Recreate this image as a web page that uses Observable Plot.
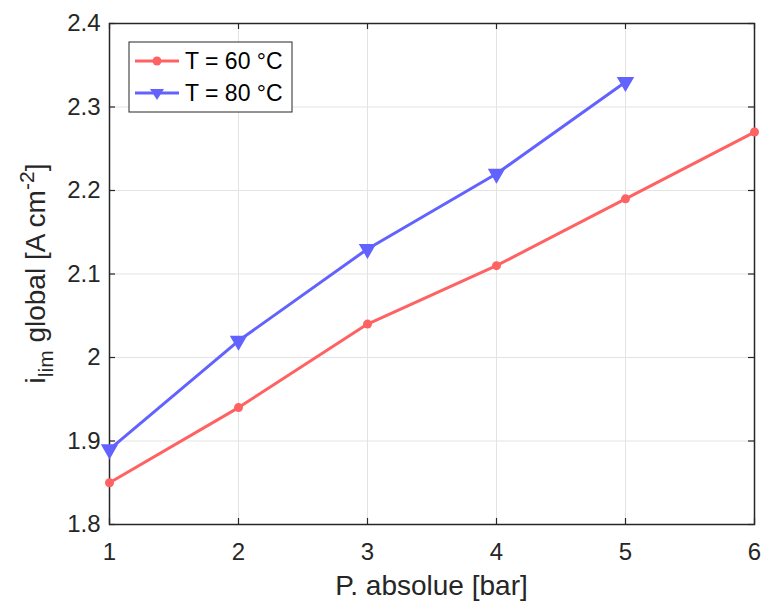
<!DOCTYPE html>
<html>
<head>
<meta charset="utf-8">
<script src="https://cdn.jsdelivr.net/npm/d3@7"></script>
<script src="https://cdn.jsdelivr.net/npm/@observablehq/plot@0.6"></script>
<style>
  html, body { margin: 0; padding: 0; background: #fff; overflow: hidden; }
  #chart svg { display: block; }
</style>
</head>
<body>
<div id="chart"></div>
<script>
const pressure60 = [1, 2, 3, 4, 5, 6];
const ilim60 = [1.85, 1.94, 2.04, 2.11, 2.19, 2.27];
const pressure80 = [1, 2, 3, 4, 5];
const ilim80 = [1.89, 2.02, 2.13, 2.22, 2.33];
const xTicks = [1, 2, 3, 4, 5, 6];
const yTicks = [1.8, 1.9, 2.0, 2.1, 2.2, 2.3, 2.4];
const yTickLabels = ["1.8", "1.9", "2", "2.1", "2.2", "2.3", "2.4"];
const seriesNames = ["T = 60 °C", "T = 80 °C"];

const red = "#ff6262";
const blue = "#6262ff";
const font = "'Liberation Sans', Arial, sans-serif";

const d60 = pressure60.map((p, i) => ({p, v: ilim60[i]}));
const d80 = pressure80.map((p, i) => ({p, v: ilim80[i]}));

const W = 762, H = 602;
const mL = 109, mR = 8, mT = 23, mB = 78;
const innerH = H - mT - mB;
const innerW = W - mL - mR;
const tk = 6;

const chart = Plot.plot({
  width: W,
  height: H,
  marginLeft: mL,
  marginRight: mR,
  marginTop: mT,
  marginBottom: mB,
  style: {fontFamily: font, background: "#fff"},
  x: {domain: [1, 6], axis: null},
  y: {domain: [1.8, 2.4], axis: null},
  marks: [
    Plot.ruleX(xTicks, {stroke: "#e3e3e3", strokeWidth: 1}),
    Plot.ruleY(yTicks, {stroke: "#e3e3e3", strokeWidth: 1}),
    // inward ticks
    Plot.ruleX(xTicks, {stroke: "#262626", strokeWidth: 1.2, insetTop: innerH - tk}),
    Plot.ruleX(xTicks, {stroke: "#262626", strokeWidth: 1.2, insetBottom: innerH - tk}),
    Plot.ruleY(yTicks, {stroke: "#262626", strokeWidth: 1.2, insetRight: innerW - tk}),
    Plot.ruleY(yTicks, {stroke: "#262626", strokeWidth: 1.2, insetLeft: innerW - tk}),
    Plot.frame({stroke: "#262626", strokeWidth: 1.5}),
    // tick labels
    Plot.text(xTicks, {x: d => d, y: 1.8, text: d => String(d), dy: 28, fontSize: 24, fill: "#262626"}),
    Plot.text(yTicks, {x: 1, y: d => d, text: (d, i) => yTickLabels[i], dx: -9, textAnchor: "end", fontSize: 24, fill: "#262626"}),
    // series
    Plot.line(d60, {x: "p", y: "v", stroke: red, strokeWidth: 3}),
    Plot.dot(d60, {x: "p", y: "v", fill: red, r: 4.5, symbol: "circle"}),
    Plot.line(d80, {x: "p", y: "v", stroke: blue, strokeWidth: 3}),
    Plot.dot(d80, {x: "p", y: "v", fill: blue, stroke: blue, r: 5.5, symbol: "triangle", rotate: 180})
  ]
});

const svg = d3.select(chart);

// x label
svg.append("text")
  .attr("x", mL + innerW / 2)
  .attr("y", 595)
  .attr("text-anchor", "middle")
  .attr("font-size", 28)
  .attr("fill", "#262626")
  .attr("font-family", font)
  .text("P. absolue [bar]");

// y label with subscript/superscript
const yl = svg.append("text")
  .attr("transform", `translate(45, ${mT + innerH / 2}) rotate(-90)`)
  .attr("text-anchor", "middle")
  .attr("font-size", 28)
  .attr("fill", "#262626")
  .attr("font-family", font);
yl.append("tspan").text("i");
yl.append("tspan").attr("font-size", 21).attr("dy", 8).text("lim");
yl.append("tspan").attr("dy", -8).text(" global [A cm");
yl.append("tspan").attr("font-size", 21).attr("dy", -11).text("-2");
yl.append("tspan").attr("dy", 11).text("]");

// legend
const lg = svg.append("g").attr("font-family", font);
lg.append("rect")
  .attr("x", 129).attr("y", 42).attr("width", 163).attr("height", 70)
  .attr("fill", "#fff").attr("stroke", "#262626").attr("stroke-width", 1);
const items = [
  {name: seriesNames[0], color: red, sym: "circle", y: 61},
  {name: seriesNames[1], color: blue, sym: "tri", y: 93}
];
items.forEach(it => {
  lg.append("line").attr("x1", 135).attr("x2", 179).attr("y1", it.y).attr("y2", it.y)
    .attr("stroke", it.color).attr("stroke-width", 3);
  if (it.sym === "circle") {
    lg.append("circle").attr("cx", 157).attr("cy", it.y).attr("r", 4.5).attr("fill", it.color);
  } else {
    lg.append("path").attr("d", `M150,${it.y - 4}L164,${it.y - 4}L157,${it.y + 7}Z`).attr("fill", it.color);
  }
  lg.append("text").attr("x", 185).attr("y", it.y + 8).attr("text-anchor", "start")
    .attr("font-size", 23).attr("fill", "#000").text(it.name);
});

document.getElementById("chart").appendChild(chart);
</script>
</body>
</html>
